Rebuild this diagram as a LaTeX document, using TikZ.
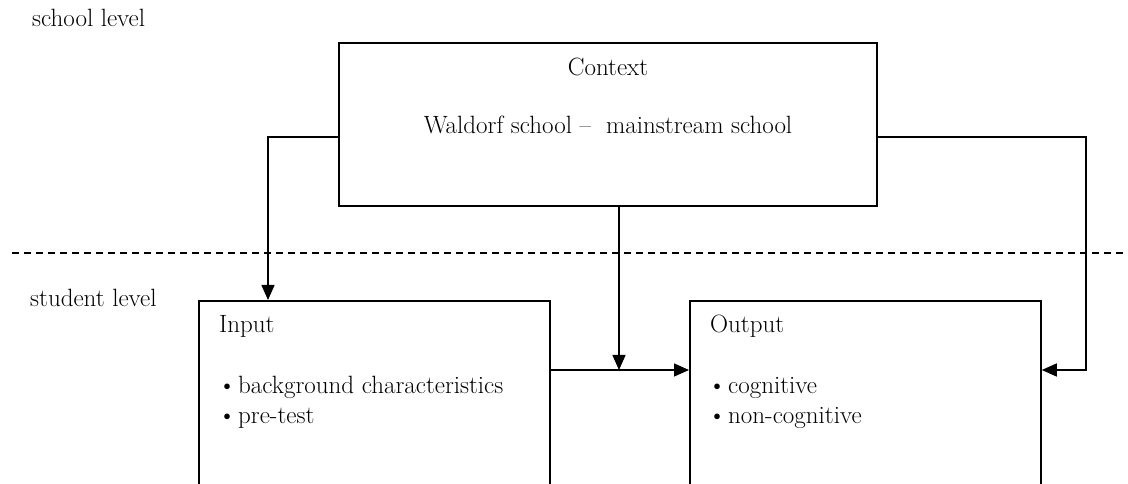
\documentclass[tikz,border=0pt]{standalone}
\usetikzlibrary{arrows.meta}
\tikzset{
  box/.style={draw,line width=1.8pt,minimum width=351pt,inner sep=0pt},
  conn/.style={line width=1.4pt,-{Triangle[length=15pt,width=13pt]}},
  txt/.style={anchor=base west,inner sep=0pt}
}
\newcommand{\itm}{\makebox[20pt][l]{\textbullet}}

\begin{document}
\begin{tikzpicture}[x=1pt,y=1pt,font=\fontsize{25}{30}\selectfont]
  \clip (0,0) rectangle (1128,484);
  \node[txt] (school) at (32,457) {school level};
  \node[txt] (student) at (30,177) {student level};
  \draw[line width=1.4pt,dash pattern=on 7pt off 5pt] (12,231) -- (1128,231);

  \node[box,minimum width=538pt,minimum height=163pt] (ctx) at (608,359.5) {};
  \node[anchor=base,inner sep=0pt] (ctxtitle) at (608,408) {Context};
  \node[anchor=base,inner sep=0pt] (ctxtext) at (608,350) {Waldorf school --\ \ mainstream school};

  \node[box,anchor=north west,minimum height=220pt] (input) at (198,184) {};
  \node[txt] (intitle) at (219,151) {Input};
  \node[txt] (in1) at (218,90) {\itm background characteristics};
  \node[txt] (in2) at (218,60) {\itm pre-test};

  \node[box,anchor=north west,minimum height=220pt] (output) at (689,184) {};
  \node[txt] (outtitle) at (710,151) {Output};
  \node[txt] (out1) at (708,90) {\itm cognitive};
  \node[txt] (out2) at (708,60) {\itm non-cognitive};

  \coordinate (join) at (619,114);
  \coordinate (rbend) at (1086,114);
  \draw[conn] ([yshift=-12.5pt]ctx.west) -| ([xshift=70pt]input.north west);
  \draw[conn] (join |- ctx.south) -- (join);
  \draw[conn] (input.east |- join) -- (output.west |- join);
  \draw[conn] ([yshift=-12.5pt]ctx.east) -| (rbend) -- (output.east |- join);
\end{tikzpicture}
\end{document}
